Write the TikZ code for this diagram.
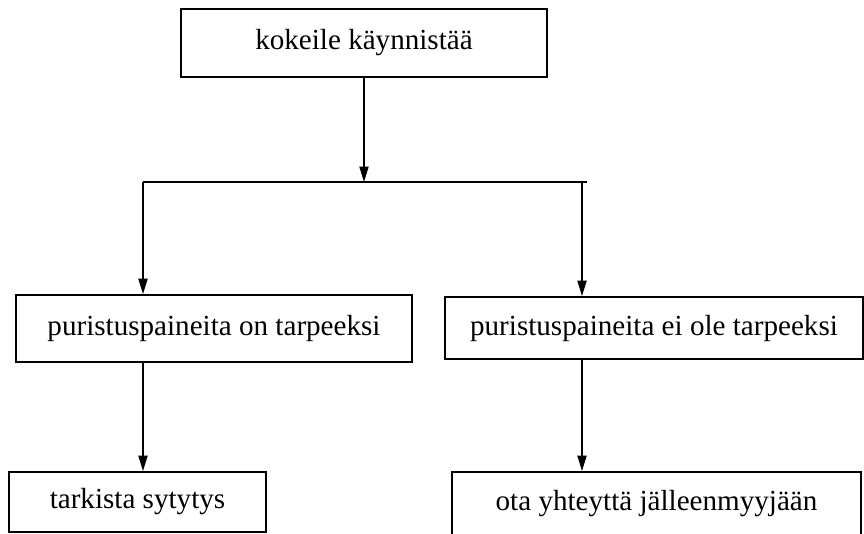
\documentclass[tikz,border=0pt]{standalone}
\usepackage{fontspec}
\setmainfont{Liberation Serif}
\usetikzlibrary{arrows.meta}
\tikzset{
	box/.style={draw, line width=1.3pt, inner sep=0pt, align=center, font=\fontsize{20.7pt}{25pt}\selectfont},
	arr/.style={line width=1.1pt, -{Triangle[length=11pt, width=6.5pt]}},
}

\begin{document}
\begin{tikzpicture}[x=0.025cm, y=-0.025cm]
		%%%%% START %%%%%
		\useasboundingbox (0, 0) rectangle (864, 534);
		
		\node[box, minimum width=366*0.025cm, minimum height=68*0.025cm] (start) at (364, 43) {kokeile käynnistää};
		
		\coordinate (split) at (364, 182);
		\coordinate (barL) at (143, 182);
		\coordinate (barR) at (587, 182);
		\coordinate (dropR) at (582, 182);
		
		\node[box, minimum width=396*0.025cm, minimum height=67*0.025cm] (enough) at (214, 328.5) {puristuspaineita on tarpeeksi};
		\node[box, minimum width=418*0.025cm, minimum height=62*0.025cm] (notenough) at (654, 328) {puristuspaineita ei ole tarpeeksi};
		
		\node[box, minimum width=257*0.025cm, minimum height=60*0.025cm] (ignition) at (137.5, 502) {tarkista sytytys};
		\node[box, minimum width=409*0.025cm, minimum height=64*0.025cm] (dealer) at (656.5, 504) {ota yhteyttä jälleenmyyjään};
		
		\draw[arr] (start.south) -- (split);
		\draw[line width=1.1pt] (barL) -- (barR);
		\draw[arr] (barL) -- (barL |- enough.north);
		\draw[arr] (dropR) -- (dropR |- notenough.north);
		
		\draw[arr] (enough.south -| barL) -- (ignition.north -| barL);
		\draw[arr] (notenough.south -| dropR) -- (dealer.north -| dropR);
		%%%%% END %%%%%
	\end{tikzpicture}
\end{document}
